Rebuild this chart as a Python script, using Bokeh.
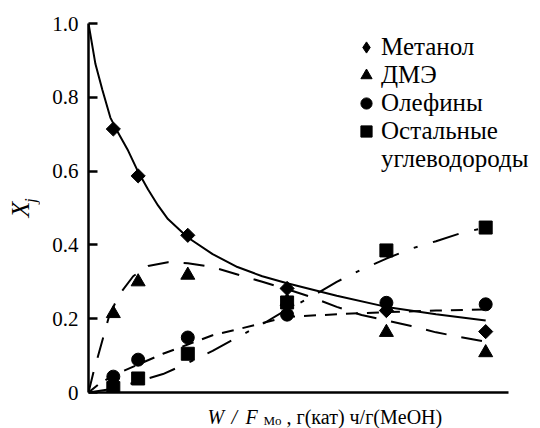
import math
from bokeh.plotting import figure
from bokeh.layouts import row, column
from bokeh.models import (Range1d, FixedTicker, Label, Legend, LegendItem)
from bokeh.embed import file_html
from bokeh.resources import INLINE

# ---- data ----
x_pts = [0.25, 0.5, 1.0, 2.0, 3.0, 4.0]
methanol = [0.714, 0.587, 0.426, 0.282, 0.222, 0.165]
dme = [0.214, 0.300, 0.318, 0.247, 0.163, 0.108]
olefins = [0.043, 0.089, 0.149, 0.211, 0.243, 0.239]
others = [0.012, 0.038, 0.105, 0.244, 0.385, 0.447]

meth_cx = [0, 0.07, 0.14, 0.22, 0.3, 0.4, 0.5, 0.6, 0.7, 0.8, 1.0, 1.25, 1.5, 1.75, 2.0, 2.5, 3.0, 3.5, 4.0]
meth_cy = [1.0, 0.89, 0.82, 0.745, 0.703, 0.655, 0.598, 0.55, 0.507, 0.47, 0.42, 0.375, 0.34, 0.315, 0.296, 0.262, 0.232, 0.212, 0.195]

dme_cx = [0, 0.05, 0.12, 0.2, 0.3, 0.45, 0.6, 0.8, 1.0, 1.25, 1.5, 1.75, 2.0, 2.25, 2.5, 2.75, 3.0, 3.25, 3.5, 3.75, 4.0]
dme_cy = [0, 0.055, 0.122, 0.2, 0.262, 0.315, 0.343, 0.353, 0.35, 0.34, 0.32, 0.30, 0.28, 0.258, 0.232, 0.21, 0.195, 0.18, 0.163, 0.15, 0.138]

ole_cx = [0, 0.1, 0.25, 0.5, 0.75, 1.0, 1.25, 1.5, 1.75, 2.0, 2.5, 3.0, 3.5, 4.0]
ole_cy = [0, 0.022, 0.046, 0.076, 0.105, 0.13, 0.155, 0.171, 0.188, 0.205, 0.212, 0.218, 0.222, 0.225]

oth_cx = [0, 0.25, 0.5, 0.75, 1.0, 1.25, 1.5, 1.75, 2.0, 2.25, 2.5, 2.75, 3.0, 3.25, 3.5, 3.75, 4.0]
oth_cy = [0, 0.01, 0.03, 0.05, 0.08, 0.113, 0.15, 0.185, 0.225, 0.26, 0.30, 0.333, 0.363, 0.39, 0.41, 0.432, 0.447]

y_ticks = [0, 0.2, 0.4, 0.6, 0.8, 1.0]
y_tick_labels = ["0", "0.2", "0.4", "0.6", "0.8", "1.0"]
legend_labels = ["Метанол", "ДМЭ", "Олефины", "Остальные", "углеводороды"]
x_label_parts = ["W", "/", "F", "Mo", ", г(кат) ч/г(MeOH)"]
y_label_parts = ["X", "j"]

X_AXIS_END = 4.23
SERIF = "Liberation Serif"

LEFT_W = 40
MAIN_W = 500
MAIN_H = 401
BOTTOM_H = 27

# ---------- main plot ----------
p = figure(width=MAIN_W, height=MAIN_H, output_backend="svg", toolbar_location=None,
           x_range=Range1d(0, 4.552), y_range=Range1d(0, 1.0),
           min_border_left=48, min_border_right=0, min_border_top=23, min_border_bottom=9)
p.outline_line_color = None
p.grid.visible = False
p.background_fill_color = "white"

ya = p.yaxis[0]
ya.ticker = FixedTicker(ticks=y_ticks)
ya.major_label_overrides = {t: l for t, l in zip(y_ticks, y_tick_labels)}
ya.major_tick_in = 9
ya.major_tick_out = 0
ya.minor_tick_line_color = None
ya.axis_line_width = 2.5
ya.major_tick_line_width = 2.5
ya.major_label_standoff = 10
ya.major_label_text_font = SERIF
ya.major_label_text_font_size = "21px"
ya.major_label_text_color = "black"
ya.axis_line_color = "black"
ya.major_tick_line_color = "black"

xa = p.xaxis[0]
xa.ticker = FixedTicker(ticks=[])
xa.bounds = (0, X_AXIS_END)
xa.major_tick_out = 0
xa.major_tick_in = 0
xa.major_label_standoff = 0
xa.major_tick_line_color = None
xa.minor_tick_line_color = None
xa.major_label_text_color = None
xa.axis_line_width = 2.5
xa.axis_line_color = "black"

p.line(meth_cx, meth_cy, line_color="black", line_width=2)
p.line(dme_cx, dme_cy, line_color="black", line_width=2, line_dash="21 15")
p.line(ole_cx, ole_cy, line_color="black", line_width=2, line_dash="12 9")
p.line(oth_cx, oth_cy, line_color="black", line_width=2, line_dash="27 16 4 16")

r_dme = p.scatter(x_pts, dme, marker="triangle", size=14, color="black")
r_oth = p.scatter(x_pts, others, marker="square", size=13, color="black")
r_ole = p.scatter(x_pts, olefins, marker="circle", size=13, color="black")
r_meth = p.scatter(x_pts, methanol, marker="square", size=10, angle=math.pi / 4, color="black")
# legend-only keys
r_meth_key = p.scatter(x_pts, methanol, marker="diamond", size=12, color="black", visible=False)
r_blank_key = p.scatter([], [], marker="circle", size=1, alpha=0)

legend = Legend(items=[LegendItem(label=legend_labels[0], renderers=[r_meth_key]),
                       LegendItem(label=legend_labels[1], renderers=[r_dme]),
                       LegendItem(label=legend_labels[2], renderers=[r_ole]),
                       LegendItem(label=legend_labels[3], renderers=[r_oth]),
                       LegendItem(label=legend_labels[4], renderers=[r_blank_key])],
                location=(264, 219), orientation="vertical",
                glyph_width=28, glyph_height=28, label_height=28, spacing=0,
                padding=0, margin=0, label_standoff=1,
                label_text_font=SERIF, label_text_font_size="25px",
                label_text_color="black", border_line_color=None,
                background_fill_alpha=0, inactive_fill_alpha=0)
p.add_layout(legend, "center")

# ---------- y label strip ----------
ly = figure(width=LEFT_W, height=MAIN_H + BOTTOM_H, output_backend="svg", toolbar_location=None,
            x_range=Range1d(0, 1), y_range=Range1d(0, 1),
            x_axis_location=None, y_axis_location=None,
            min_border_left=0, min_border_right=0, min_border_top=0, min_border_bottom=0)
ly.outline_line_color = None
ly.grid.visible = False
ly.add_layout(Label(x=20, y=219, x_units="screen", y_units="screen", text=y_label_parts[0],
                    angle=math.pi / 2, text_font=SERIF, text_font_style="italic",
                    text_font_size="26px", text_align="center", text_baseline="middle",
                    text_color="black"))
ly.add_layout(Label(x=30, y=228, x_units="screen", y_units="screen", text=y_label_parts[1],
                    angle=math.pi / 2, text_font=SERIF, text_font_style="italic",
                    text_font_size="16px", text_align="center", text_baseline="middle",
                    text_color="black"))

# ---------- x label strip ----------
lx = figure(width=MAIN_W, height=BOTTOM_H, output_backend="svg", toolbar_location=None,
            x_range=Range1d(0, 1), y_range=Range1d(0, 1),
            x_axis_location=None, y_axis_location=None,
            min_border_left=0, min_border_right=0, min_border_top=0, min_border_bottom=0)
lx.outline_line_color = None
lx.grid.visible = False
x_pos = [119, 143, 157, 175, 198]
y_pos = [12, 12, 12, 8, 12]
styles = ["italic", "italic", "italic", "normal", "normal"]
sizes = ["20px", "20px", "20px", "13px", "20px"]
for t, xx, yy, st, sz in zip(x_label_parts, x_pos, y_pos, styles, sizes):
    lx.add_layout(Label(x=xx, y=yy, x_units="screen", y_units="screen", text=t,
                        text_font=SERIF, text_font_style=st, text_font_size=sz,
                        text_align="left", text_baseline="alphabetic", text_color="black"))

layout = row(ly, column(p, lx))
open("out.html", "w").write(file_html(layout, INLINE))
